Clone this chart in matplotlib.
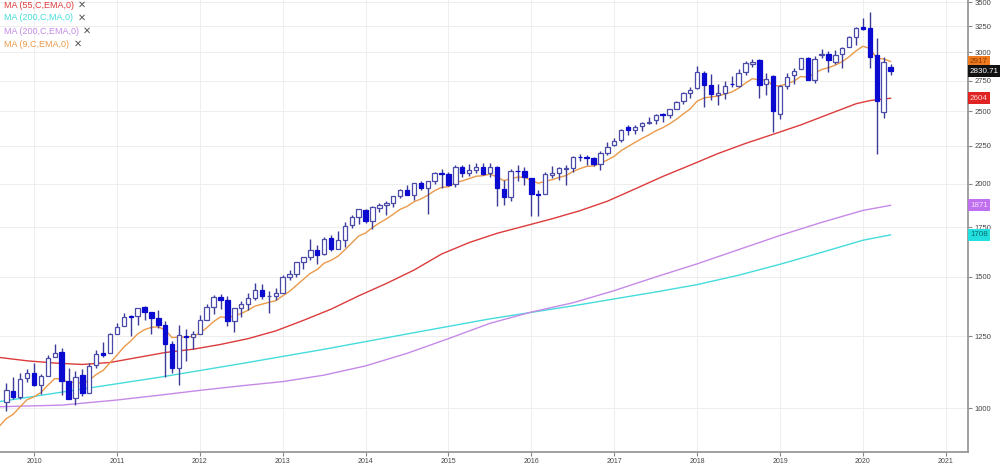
import matplotlib
matplotlib.use("Agg")
import matplotlib.pyplot as plt
import matplotlib.transforms as mtransforms

plt.rcParams['font.family'] = ['Liberation Sans', 'DejaVu Sans']

# monthly candles, first one is Sep 2009
start_year, start_month = 2009, 9

opens = [1019.5, 1054.9, 1036.2, 1098.9,
         1116.6, 1073.9, 1105.4, 1171.2, 1188.6, 1087.3, 1031.1, 1107.5, 1049.7, 1143.5, 1185.7, 1186.6,
         1257.6, 1289.1, 1328.6, 1329.5, 1365.2, 1345.2, 1320.6, 1292.6, 1219.1, 1131.2, 1251.0, 1246.9,
         1258.9, 1312.5, 1365.9, 1408.5, 1397.9, 1309.9, 1362.3, 1379.3, 1406.5, 1440.9, 1412.2, 1416.3,
         1426.2, 1498.1, 1514.7, 1569.2, 1597.6, 1631.7, 1609.8, 1689.4, 1635.9, 1682.4, 1758.7, 1806.6,
         1845.9, 1782.7, 1857.7, 1873.9, 1884.4, 1923.9, 1962.3, 1929.8, 2004.1, 1971.4, 2018.2, 2065.8,
         2058.9, 1996.7, 2105.2, 2067.6, 2087.4, 2108.6, 2067.0, 2104.5, 1970.1, 1919.7, 2080.8, 2082.9,
         2038.2, 1936.9, 1937.1, 2056.6, 2067.2, 2093.9, 2099.3, 2173.2, 2171.0, 2164.3, 2128.7, 2200.2,
         2251.6, 2285.6, 2380.1, 2362.3, 2388.5, 2415.6, 2431.4, 2477.1, 2474.4, 2521.2, 2583.2, 2645.1,
         2683.7, 2816.5, 2715.2, 2633.5, 2643.0, 2718.7, 2705.0, 2821.2, 2897.0, 2926.3, 2717.6, 2790.5,
         2477.0, 2702.3, 2798.2, 2848.6, 2952.3, 2751.5, 2971.4, 2980.3, 2909.0, 2983.7, 3050.7, 3143.9,
         3244.7, 3235.7, 2974.3, 2498.1, 2869.1]
highs = [1080.2, 1101.4, 1113.7, 1130.4,
         1150.5, 1112.4, 1180.7, 1219.8, 1205.1, 1131.2, 1120.9, 1129.2, 1148.9, 1196.1, 1227.1, 1262.6,
         1302.7, 1344.1, 1332.3, 1364.6, 1370.6, 1345.2, 1356.5, 1307.4, 1229.3, 1292.7, 1277.6, 1269.4,
         1333.5, 1378.0, 1419.2, 1422.4, 1415.3, 1363.5, 1391.7, 1426.7, 1474.5, 1470.0, 1434.3, 1448.0,
         1509.9, 1530.9, 1570.3, 1597.6, 1687.2, 1654.2, 1698.8, 1709.7, 1729.9, 1775.2, 1813.6, 1849.4,
         1850.8, 1867.9, 1883.9, 1897.3, 1924.0, 1968.2, 1991.4, 2005.0, 2019.3, 2018.2, 2075.8, 2093.6,
         2072.4, 2119.6, 2117.5, 2125.9, 2134.7, 2129.9, 2132.8, 2112.7, 2020.9, 2094.3, 2116.5, 2104.3,
         2038.2, 1962.9, 2072.2, 2111.1, 2103.5, 2120.6, 2177.1, 2193.8, 2187.9, 2169.6, 2214.1, 2277.5,
         2300.9, 2371.5, 2401.0, 2398.2, 2418.7, 2453.8, 2484.0, 2490.9, 2519.4, 2582.0, 2657.7, 2695.0,
         2872.9, 2835.9, 2801.9, 2717.5, 2742.2, 2791.5, 2848.0, 2916.5, 2940.9, 2939.9, 2815.2, 2800.2,
         2709.0, 2813.5, 2860.3, 2949.5, 2954.1, 2964.2, 3028.0, 3013.6, 3022.0, 3050.1, 3154.3, 3247.9,
         3337.8, 3393.5, 3136.7, 2954.9, 2891.1]
lows = [991.0, 1029.4, 1029.4, 1085.9,
        1071.6, 1044.5, 1105.4, 1170.7, 1040.8, 1028.3, 1010.9, 1039.7, 1048.2, 1131.9, 1173.0, 1186.6,
        1257.6, 1289.1, 1249.1, 1294.7, 1311.8, 1258.1, 1282.9, 1101.5, 1114.2, 1074.8, 1158.7, 1202.4,
        1258.9, 1312.5, 1340.0, 1357.4, 1291.0, 1266.7, 1325.4, 1354.7, 1396.6, 1403.3, 1343.4, 1398.1,
        1426.2, 1485.0, 1501.5, 1536.0, 1581.3, 1560.3, 1604.6, 1627.5, 1633.4, 1646.5, 1746.2, 1767.0,
        1770.5, 1737.9, 1834.4, 1814.4, 1859.8, 1915.9, 1930.7, 1904.8, 1964.0, 1820.7, 2001.0, 1972.6,
        1988.1, 1980.9, 2039.7, 2048.4, 2067.9, 2056.3, 2044.0, 1867.0, 1871.9, 1893.7, 2019.4, 1993.3,
        1812.3, 1810.1, 1937.1, 2033.8, 2025.9, 1991.7, 2074.0, 2147.6, 2119.1, 2114.7, 2083.8, 2187.4,
        2245.1, 2271.7, 2322.3, 2328.9, 2352.7, 2405.7, 2407.7, 2417.4, 2446.6, 2520.4, 2557.5, 2605.5,
        2682.4, 2532.7, 2585.9, 2553.8, 2594.6, 2692.0, 2699.0, 2796.3, 2864.1, 2603.5, 2631.1, 2346.6,
        2444.0, 2681.8, 2722.3, 2848.6, 2750.5, 2728.8, 2952.2, 2822.1, 2891.9, 2855.9, 3050.7, 3070.3,
        3214.6, 2855.8, 2191.9, 2447.5, 2797.9]
closes = [1057.1, 1036.2, 1095.6, 1115.1,
          1073.9, 1104.5, 1169.4, 1186.7, 1089.4, 1030.7, 1101.6, 1049.3, 1141.2, 1183.3, 1180.6, 1257.6,
          1286.1, 1327.2, 1325.8, 1363.6, 1345.2, 1320.6, 1292.3, 1219.0, 1131.4, 1253.3, 1247.0, 1257.6,
          1312.4, 1365.7, 1408.5, 1397.9, 1310.3, 1362.2, 1379.3, 1406.6, 1440.7, 1412.2, 1416.2, 1426.2,
          1498.1, 1514.7, 1569.2, 1597.6, 1630.7, 1606.3, 1685.7, 1633.0, 1681.6, 1756.5, 1805.8, 1848.4,
          1782.6, 1859.5, 1872.3, 1883.9, 1923.6, 1960.2, 1930.7, 2003.4, 1972.3, 2018.1, 2067.6, 2058.9,
          1994.9, 2104.5, 2067.9, 2085.5, 2107.4, 2063.1, 2104.0, 1972.2, 1920.0, 2079.4, 2080.4, 2043.9,
          1940.2, 1932.2, 2059.7, 2065.3, 2096.9, 2098.9, 2173.6, 2170.9, 2168.3, 2126.2, 2199.0, 2238.8,
          2278.9, 2363.6, 2362.7, 2384.2, 2411.8, 2423.4, 2470.3, 2471.7, 2519.4, 2575.3, 2647.6, 2673.6,
          2823.8, 2713.8, 2640.9, 2648.1, 2705.3, 2718.4, 2816.3, 2901.5, 2914.0, 2711.7, 2760.2, 2506.9,
          2704.1, 2784.5, 2834.4, 2945.8, 2752.1, 2941.8, 2980.4, 2926.5, 2976.7, 3037.6, 3141.0, 3230.8,
          3225.5, 2954.2, 2584.6, 2912.4, 2830.71]

# MA (9,C,EMA,0), monthly from Aug 2009
ema9_start = (2009, 8)
ema9 = [947, 969, 982, 1005, 1027,
        1036, 1050, 1074, 1096, 1095, 1082, 1086, 1079, 1091, 1110, 1124, 1151,
        1178, 1208, 1231, 1258, 1275, 1284, 1286, 1273, 1244, 1246, 1246, 1249,
        1261, 1282, 1307, 1326, 1323, 1330, 1340, 1354, 1371, 1379, 1387, 1394,
        1415, 1435, 1462, 1489, 1517, 1535, 1565, 1579, 1599, 1631, 1666, 1702,
        1718, 1747, 1772, 1794, 1820, 1848, 1865, 1892, 1908, 1930, 1958, 1978,
        1981, 2006, 2018, 2032, 2047, 2050, 2061, 2043, 2019, 2031, 2041, 2041,
        2021, 2003, 2015, 2025, 2039, 2051, 2076, 2095, 2110, 2113, 2130, 2152,
        2177, 2215, 2244, 2272, 2300, 2325, 2354, 2377, 2406, 2440, 2481, 2520,
        2581, 2607, 2614, 2621, 2638, 2654, 2686, 2729, 2766, 2755, 2756, 2706,
        2706, 2722, 2744, 2785, 2778, 2811, 2845, 2861, 2884, 2915, 2960, 3014,
        3057, 3036, 2946, 2939, 2917]

# MA (55,C,EMA,0)
ema55_months = ["2009-08", "2009-12", "2010-04", "2010-08", "2010-12", "2011-04", "2011-08",
                "2011-12", "2012-04", "2012-08", "2012-12", "2013-04", "2013-08", "2013-12",
                "2014-04", "2014-08", "2014-12", "2015-04", "2015-08", "2015-12", "2016-04",
                "2016-08", "2016-12", "2017-04", "2017-08", "2017-12", "2018-04", "2018-08",
                "2018-12", "2019-04", "2019-08", "2019-12", "2020-02", "2020-05"]
ema55_vals = [1170, 1158, 1150, 1145, 1152, 1170, 1188,
              1200, 1218, 1240, 1270, 1312, 1358, 1415,
              1470, 1532, 1610, 1668, 1716, 1755, 1795,
              1840, 1895, 1968, 2045, 2118, 2195, 2265,
              2330, 2398, 2478, 2560, 2585, 2604]

# MA (200,C,MA,0)
sma200_months = ["2009-08", "2010-07", "2011-07", "2012-07", "2013-07", "2014-07", "2015-07",
                 "2016-07", "2017-07", "2018-01", "2018-07", "2019-01", "2019-07", "2020-01",
                 "2020-05"]
sma200_vals = [1021, 1058, 1100, 1148, 1200, 1258, 1318,
               1372, 1432, 1465, 1508, 1560, 1618, 1680,
               1708]

# MA (200,C,EMA,0)
ema200_months = ["2009-08", "2010-05", "2011-01", "2011-07", "2012-01", "2012-07", "2013-01",
                 "2013-07", "2014-01", "2014-07", "2015-01", "2015-07", "2016-01", "2016-07",
                 "2017-01", "2017-07", "2018-01", "2018-07", "2019-01", "2019-07", "2020-01",
                 "2020-05"]
ema200_vals = [1005, 1010, 1026, 1041, 1057, 1072, 1086,
               1108, 1140, 1185, 1240, 1300, 1346, 1385,
               1438, 1500, 1562, 1632, 1705, 1775, 1842,
               1871]

year_ticks = list(range(2010, 2022))
price_ticks = list(range(1000, 3501, 250))

legend_labels = ["MA (55,C,EMA,0)", "MA (200,C,MA,0)", "MA (200,C,EMA,0)", "MA (9,C,EMA,0)"]
c_ema55 = '#dd3b3b'
c_sma200 = '#45dcdc'
c_ema200 = '#c58ae8'
c_ema9 = '#eb9a4a'
c_up = '#4a4aa8'
c_down = '#0a0ad0'


def month_x(y, m):
    return y + (m - 1) / 12.0


def str_x(s):
    y, m = s.split("-")
    return month_x(int(y), int(m))


fig = plt.figure(figsize=(10, 4.65), dpi=100)
ax = fig.add_axes([0.0, 0.028, 0.968, 0.972])
ax.set_yscale('log')

# candles
xs = [month_x(start_year + (start_month - 1 + i) // 12, (start_month - 1 + i) % 12 + 1)
      for i in range(len(closes))]
w = 0.053
for x, o, h, l, c in zip(xs, opens, highs, lows, closes):
    up = c >= o
    col = c_up if up else c_down
    ax.vlines(x, l, h, color='#3b3b98', linewidth=1.0, zorder=3)
    lo, hi = min(o, c), max(o, c)
    if hi - lo < 2:
        hi = lo + 2
    ax.bar(x, hi - lo, bottom=lo, width=w, facecolor='white' if up else c_down,
           edgecolor=col, linewidth=0.9, zorder=4)

# moving averages
ema9_x = [month_x(ema9_start[0] + (ema9_start[1] - 1 + i) // 12, (ema9_start[1] - 1 + i) % 12 + 1)
          for i in range(len(ema9))]
ax.plot([str_x(m) for m in sma200_months], sma200_vals, color=c_sma200, lw=1.0, zorder=2)
ax.plot([str_x(m) for m in ema200_months], ema200_vals, color=c_ema200, lw=1.0, zorder=2)
ax.plot([str_x(m) for m in ema55_months], ema55_vals, color=c_ema55, lw=1.0, zorder=2)
ax.plot(ema9_x, ema9, color=c_ema9, lw=1.0, zorder=2)

ax.set_xlim(2009.59, 2021.267)
ax.set_ylim(874, 3526)

ax.yaxis.tick_right()
ax.set_yticks(price_ticks)
ax.set_yticklabels([str(t) for t in price_ticks])
ax.yaxis.set_minor_locator(matplotlib.ticker.NullLocator())
ax.set_xticks(year_ticks)
ax.set_xticklabels([str(t) for t in year_ticks])
ax.tick_params(axis='y', which='major', length=3, width=0.8, color='#888888',
               labelsize=5.5, labelcolor='#444444', pad=2)
ax.tick_params(axis='x', which='major', length=3, width=0.8, color='#888888',
               labelsize=5, labelcolor='#444444', pad=1.5)
ax.grid(True, color='#eeeeee', linewidth=0.7, zorder=0)
ax.set_axisbelow(True)
for side in ['left', 'top']:
    ax.spines[side].set_visible(False)
for side in ['right', 'bottom']:
    ax.spines[side].set_color('#999999')
    ax.spines[side].set_linewidth(1.3)

# legend in the top left corner
legend_colors = [c_ema55, c_sma200, c_ema200, c_ema9]
for i, (lab, col) in enumerate(zip(legend_labels, legend_colors)):
    yy = 1 - (5 + 13 * i) / 465.0 / 0.972
    ax.text(0.004, yy, lab, transform=ax.transAxes, fontsize=6.5, color=col,
            va='center', ha='left')
    x_pos = [82, 82, 87, 78][i] / 968.0
    ax.text(x_pos, yy, '✕', transform=ax.transAxes, fontsize=7, color='#555555',
            va='center', ha='center', family=['DejaVu Sans'])

# value boxes on the right axis
trans = mtransforms.blended_transform_factory(ax.transAxes, ax.transData)
boxes = [(ema9[-1], str(ema9[-1]), '#f07a1e', '#8a3a00'),
         (closes[-1], '%.2f' % closes[-1], '#111111', 'white'),
         (ema55_vals[-1], str(ema55_vals[-1]), '#e02424', '#ffd8d8'),
         (ema200_vals[-1], str(ema200_vals[-1]), '#c070ee', '#f4dcff'),
         (sma200_vals[-1], str(sma200_vals[-1]), '#22e0e0', '#0a6a6a')]
for val, txt, bg, fg in boxes:
    ax.text(1.002, val, txt, transform=trans, fontsize=5.8, color=fg, va='center', ha='left',
            clip_on=False, zorder=10,
            bbox=dict(boxstyle='square,pad=0.3', facecolor=bg, edgecolor='none'))

fig.savefig('out.png', dpi=100)
